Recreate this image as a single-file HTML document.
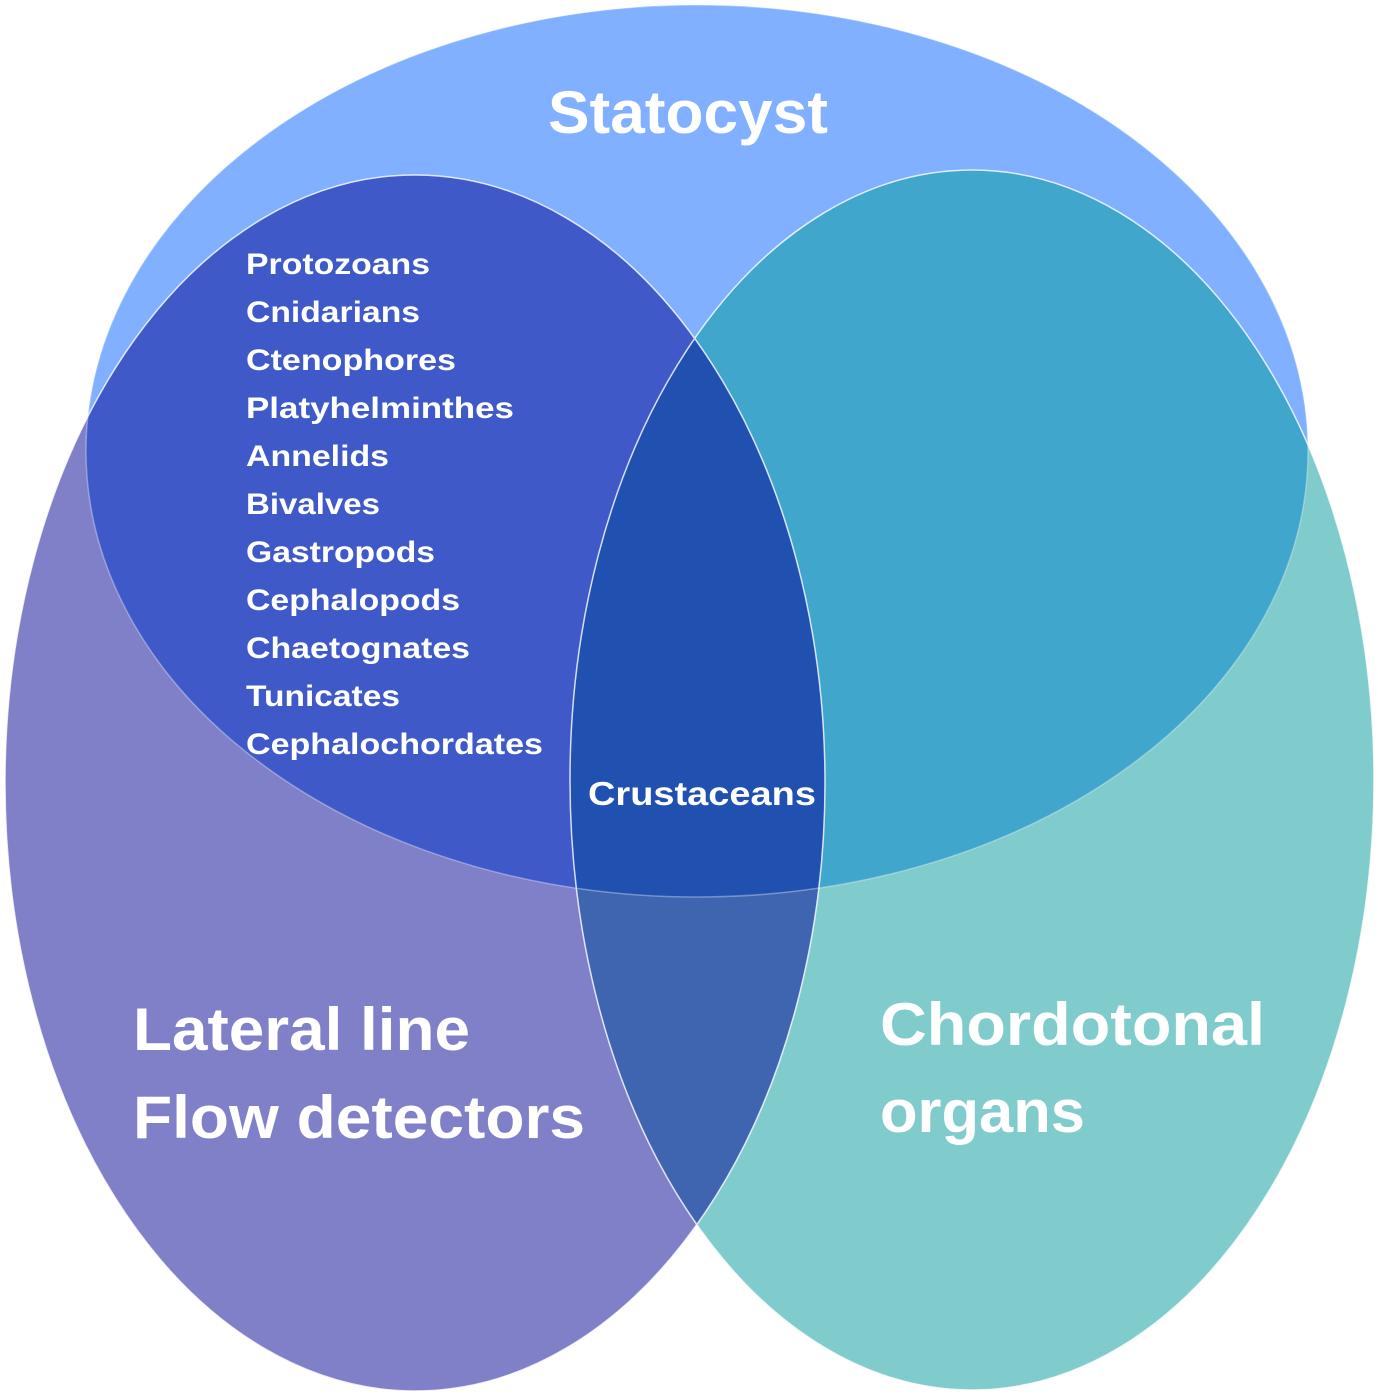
<!DOCTYPE html>
<html><head><meta charset="utf-8"><style>
html,body{margin:0;padding:0;background:#fff;}
svg{display:block;}
text{font-family:"Liberation Sans",sans-serif;font-weight:bold;fill:#fff;}
</style></head><body>
<svg width="1378" height="1397" viewBox="0 0 1378 1397" xmlns="http://www.w3.org/2000/svg">
<defs>
<clipPath id="cL"><ellipse cx="415" cy="783" rx="410" ry="608"/></clipPath>
<clipPath id="cR"><ellipse cx="972" cy="780" rx="402" ry="610"/></clipPath>
<clipPath id="cT"><ellipse cx="697" cy="451" rx="611" ry="446"/></clipPath>
</defs>
<ellipse cx="415" cy="783" rx="410" ry="608" fill="#8080c8"/>
<ellipse cx="972" cy="780" rx="402" ry="610" fill="#80cbcb"/>
<g clip-path="url(#cL)"><ellipse cx="972" cy="780" rx="402" ry="610" fill="#4065b0"/></g>
<ellipse cx="697" cy="451" rx="611" ry="446" fill="#80b0ff"/>
<g clip-path="url(#cT)">
<ellipse cx="415" cy="783" rx="410" ry="608" fill="#3f5ac8"/>
<ellipse cx="972" cy="780" rx="402" ry="610" fill="#40a6cb"/>
<g clip-path="url(#cL)"><ellipse cx="972" cy="780" rx="402" ry="610" fill="#2050b0"/></g>
</g>
<g fill="none" stroke="#fff" stroke-width="1.5" opacity="0.8">
<ellipse cx="415" cy="783" rx="410" ry="608"/>
<ellipse cx="972" cy="780" rx="402" ry="610"/>
<ellipse cx="697" cy="451" rx="611" ry="446" opacity="0.4"/>
</g>
<text x="548" y="133" font-size="60" textLength="280" lengthAdjust="spacingAndGlyphs">Statocyst</text>
<g font-size="30">
<text x="246" y="274" textLength="184" lengthAdjust="spacingAndGlyphs">Protozoans</text>
<text x="246" y="322" textLength="174" lengthAdjust="spacingAndGlyphs">Cnidarians</text>
<text x="246" y="370" textLength="210" lengthAdjust="spacingAndGlyphs">Ctenophores</text>
<text x="246" y="418" textLength="268" lengthAdjust="spacingAndGlyphs">Platyhelminthes</text>
<text x="246" y="466" textLength="143" lengthAdjust="spacingAndGlyphs">Annelids</text>
<text x="246" y="514" textLength="134" lengthAdjust="spacingAndGlyphs">Bivalves</text>
<text x="246" y="562" textLength="189" lengthAdjust="spacingAndGlyphs">Gastropods</text>
<text x="246" y="610" textLength="214" lengthAdjust="spacingAndGlyphs">Cephalopods</text>
<text x="246" y="658" textLength="224" lengthAdjust="spacingAndGlyphs">Chaetognates</text>
<text x="246" y="706" textLength="154" lengthAdjust="spacingAndGlyphs">Tunicates</text>
<text x="246" y="754" textLength="297" lengthAdjust="spacingAndGlyphs">Cephalochordates</text>
</g>
<text x="588" y="805" font-size="33" textLength="228" lengthAdjust="spacingAndGlyphs">Crustaceans</text>
<text x="133" y="1050" font-size="60" textLength="337" lengthAdjust="spacingAndGlyphs">Lateral line</text>
<text x="133" y="1138" font-size="60" textLength="452" lengthAdjust="spacingAndGlyphs">Flow detectors</text>
<text x="880" y="1045" font-size="60" textLength="385" lengthAdjust="spacingAndGlyphs">Chordotonal</text>
<text x="880" y="1132" font-size="60" textLength="205" lengthAdjust="spacingAndGlyphs">organs</text>
</svg>
</body></html>
